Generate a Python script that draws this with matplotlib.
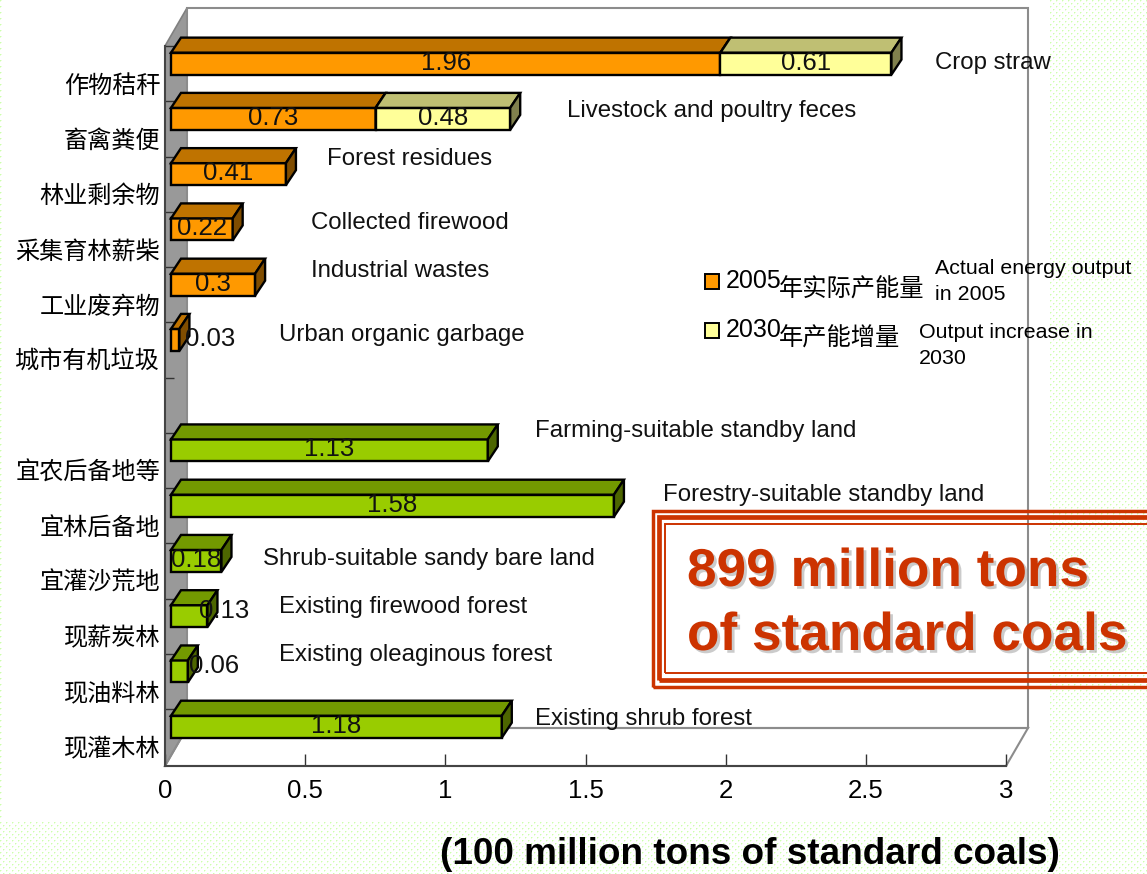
import numpy as np
import matplotlib
matplotlib.use("Agg")
import matplotlib.pyplot as plt
import matplotlib.patheffects as pe
from matplotlib.patches import Polygon, Rectangle

W, H = 1147, 874

LATIN = ["Liberation Sans", "DejaVu Sans"]
NARROW = ["Liberation Sans Narrow", "Liberation Sans", "DejaVu Sans"]
CJK = ["Noto Sans CJK SC", "DejaVu Sans"]

# data, top to bottom, row 6 stays empty
categories = ["作物秸秆", "畜禽粪便", "林业剩余物", "采集育林薪柴", "工业废弃物", "城市有机垃圾", "",
              "宜农后备地等", "宜林后备地", "宜灌沙荒地", "现薪炭林", "现油料林", "现灌木林"]
actual_2005 = [1.96, 0.73, 0.41, 0.22, 0.3, 0.03]
increase_2030 = [0.61, 0.48, 0, 0, 0, 0]
potential = [1.13, 1.58, 0.18, 0.13, 0.06, 1.18]
english_labels = ["Crop straw", "Livestock and poultry feces", "Forest residues",
                  "Collected firewood", "Industrial wastes", "Urban organic garbage",
                  "Farming-suitable standby land", "Forestry-suitable standby land",
                  "Shrub-suitable sandy bare land", "Existing firewood forest",
                  "Existing oleaginous forest", "Existing shrub forest"]
english_x = [935, 567, 327, 311, 311, 279, 535, 663, 263, 279, 279, 535]
english_y = [61, 109, 157, 221, 269, 333, 429, 493, 557, 605, 653, 717]
xticks = [0, 0.5, 1, 1.5, 2, 2.5, 3]
xticklabels = ["0", "0.5", "1", "1.5", "2", "2.5", "3"]

ORANGE = ("#FF9900", "#BF7300", "#804D00")
YELLOW = ("#FFFF99", "#BFBF73", "#80804D")
GREEN = ("#99CC00", "#739900", "#4D6600")
RED = "#CC3300"

fig = plt.figure(figsize=(W / 100, H / 100), dpi=100)

# dotted page behind the white panel
page = np.ones((H, W, 3))
for oy, ox in [(0, 0), (3, 3)]:
    page[oy::6, ox::6] = [0.80, 1.0, 0.68]
    page[oy + 1::6, ox::6] = [0.92, 1.0, 0.86]
    page[oy::6, ox + 1::6] = [0.92, 1.0, 0.86]
page[:822, 3:1050] = 1.0
fig.figimage(page, zorder=-1)

ax = fig.add_axes([165 / W, 1 - 766 / H, 841 / W, 720 / H])
ax.patch.set_visible(False)
y_end = 13.03
ax.set_xlim(0, 3)
ax.set_ylim(y_end, 0)
px_x = 3 / 841
px_y = y_end / 720


def fx(px):
    return px / W


def fy(py):
    return 1 - py / H


# walls and floor
back_x, back_y = 22 * px_x, 38 * px_y
wall_top, wall_bottom = -back_y, y_end - back_y
ax.add_patch(Polygon([(0, 0), (back_x, wall_top), (back_x, wall_bottom), (0, y_end)],
                     fc="#999999", ec="#808080", lw=1.2, clip_on=False, zorder=1))
ax.add_patch(Polygon([(back_x, wall_top), (3 + back_x, wall_top), (3 + back_x, wall_bottom), (back_x, wall_bottom)],
                     fc="none", ec="#8C8C8C", lw=1.5, clip_on=False, zorder=1))
ax.add_patch(Polygon([(0, y_end), (3, y_end), (3 + back_x, wall_bottom), (back_x, wall_bottom)],
                     fc="none", ec="#8C8C8C", lw=1.5, clip_on=False, zorder=1))

start = 6 * px_x
depth_x, depth_y = 10 * px_x, 15 * px_y
shift_y = 10 * px_y
bar_h = 22 * px_y
EDGE = 1.7


def box(row, left, value, colors, z):
    y = row + 0.5 - shift_y
    ax.barh(y, value, left=left, height=bar_h, color=colors[0], edgecolor="black", lw=EDGE, zorder=z)
    top, bottom = y - bar_h / 2, y + bar_h / 2
    right = left + value
    ax.add_patch(Polygon([(left, top), (right, top), (right + depth_x, top - depth_y), (left + depth_x, top - depth_y)],
                         fc=colors[1], ec="black", lw=EDGE, clip_on=False, zorder=z))
    ax.add_patch(Polygon([(right, top), (right + depth_x, top - depth_y), (right + depth_x, bottom - depth_y), (right, bottom)],
                         fc=colors[2], ec="black", lw=EDGE, clip_on=False, zorder=z))


def value_label(row, x, text, lift=0):
    ax.text(x, row + 0.5 - shift_y - (1 + lift) * px_y, text, ha="center", va="center", fontsize=18.5,
            family=NARROW, color="#111111", zorder=20)


for i, (a, b) in enumerate(zip(actual_2005, increase_2030)):
    box(i, start, a, ORANGE, 5 + i)
    if b > 0:
        box(i, start + a, b, YELLOW, 5 + i)
        value_label(i, start + a + b / 2, str(b))
    value_label(i, start + a / 2 + (35 * px_x if a < 0.1 else 0), str(a))

for i, v in enumerate(potential):
    row = i + 7
    box(row, start, v, GREEN, 5 + row)
    outside = v < 0.15
    value_label(row, start + v / 2 + (35 * px_x if outside else 0), str(v), lift=4 if outside else 0)

# axes, ticks point inwards like the 3D chart does
for s in ["top", "right"]:
    ax.spines[s].set_visible(False)
for s in ["left", "bottom"]:
    ax.spines[s].set_color("#444444")
    ax.spines[s].set_linewidth(1.5)
    ax.spines[s].set_zorder(2)
ax.set_xticks(xticks)
ax.set_xticklabels(xticklabels, fontsize=18.5, family=NARROW)
ax.tick_params(axis="x", direction="in", length=8.5, width=1, color="#333333", pad=9)
ax.set_yticks(range(13))
ax.set_yticklabels([])
ax.tick_params(axis="y", which="major", direction="in", length=6.5, width=1, color="#333333")
rows = [(37 + 55.2 * i) * px_y for i in range(13)]
ax.set_yticks(rows, categories, minor=True, fontsize=17.4, family=CJK)
ax.tick_params(axis="y", which="minor", length=0, pad=3.5)

# english names next to the bars
for name, x, y in zip(english_labels, english_x, english_y):
    fig.text(fx(x), fy(y + 2), name, fontsize=17.25, family=LATIN, va="center", color="#111111", zorder=20)

# legend, drawn by hand because the text mixes sizes
for y0, color in [(274, ORANGE[0]), (323, YELLOW[0])]:
    fig.add_artist(Rectangle((fx(705), fy(y0 + 15)), 14 / W, 15 / H, transform=fig.transFigure,
                             fc=color, ec="black", lw=1.4, zorder=20))
fig.text(fx(726), fy(281), "2005", fontsize=18, family=NARROW, va="center", zorder=20)
fig.text(fx(726), fy(330), "2030", fontsize=18, family=NARROW, va="center", zorder=20)
fig.text(fx(779), fy(290), "年实际产能量", fontsize=17.5, family=CJK, va="center", zorder=20)
fig.text(fx(779), fy(339), "年产能增量", fontsize=17.5, family=CJK, va="center", zorder=20)
fig.text(fx(935), fy(269), "Actual energy output", fontsize=15.4, family=LATIN, va="center", zorder=20)
fig.text(fx(935), fy(295), "in 2005", fontsize=15.4, family=LATIN, va="center", zorder=20)
fig.text(fx(919), fy(333), "Output increase in", fontsize=15.4, family=LATIN, va="center", zorder=20)
fig.text(fx(919), fy(359), "2030", fontsize=15.4, family=LATIN, va="center", zorder=20)

# triple red frame, runs off the right edge
for left, top, bottom, lw in [(653, 511, 686.5, 2.5), (658.5, 517, 679.5, 3.4), (665, 523.5, 673, 1.4)]:
    fig.add_artist(Rectangle((fx(left), fy(bottom)), (W + 20 - left) / W, (bottom - top) / H,
                             transform=fig.transFigure, fc="none", ec=RED, lw=lw, zorder=21))
shadow = [pe.withSimplePatchShadow(offset=(2, -2), shadow_rgbFace="#999999", alpha=0.5)]
fig.text(fx(687), fy(586), "899 million tons", fontsize=38.3, family=LATIN, weight="bold", color=RED,
         va="baseline", path_effects=shadow, zorder=22)
fig.text(fx(687), fy(650), "of standard coals", fontsize=38.3, family=LATIN, weight="bold", color=RED,
         va="baseline", path_effects=shadow, zorder=22)

fig.text(fx(440), fy(855), "(100 million tons of standard coals)", fontsize=26.6, family=LATIN,
         weight="bold", va="center", zorder=22)

fig.savefig("out.png", dpi=100)
